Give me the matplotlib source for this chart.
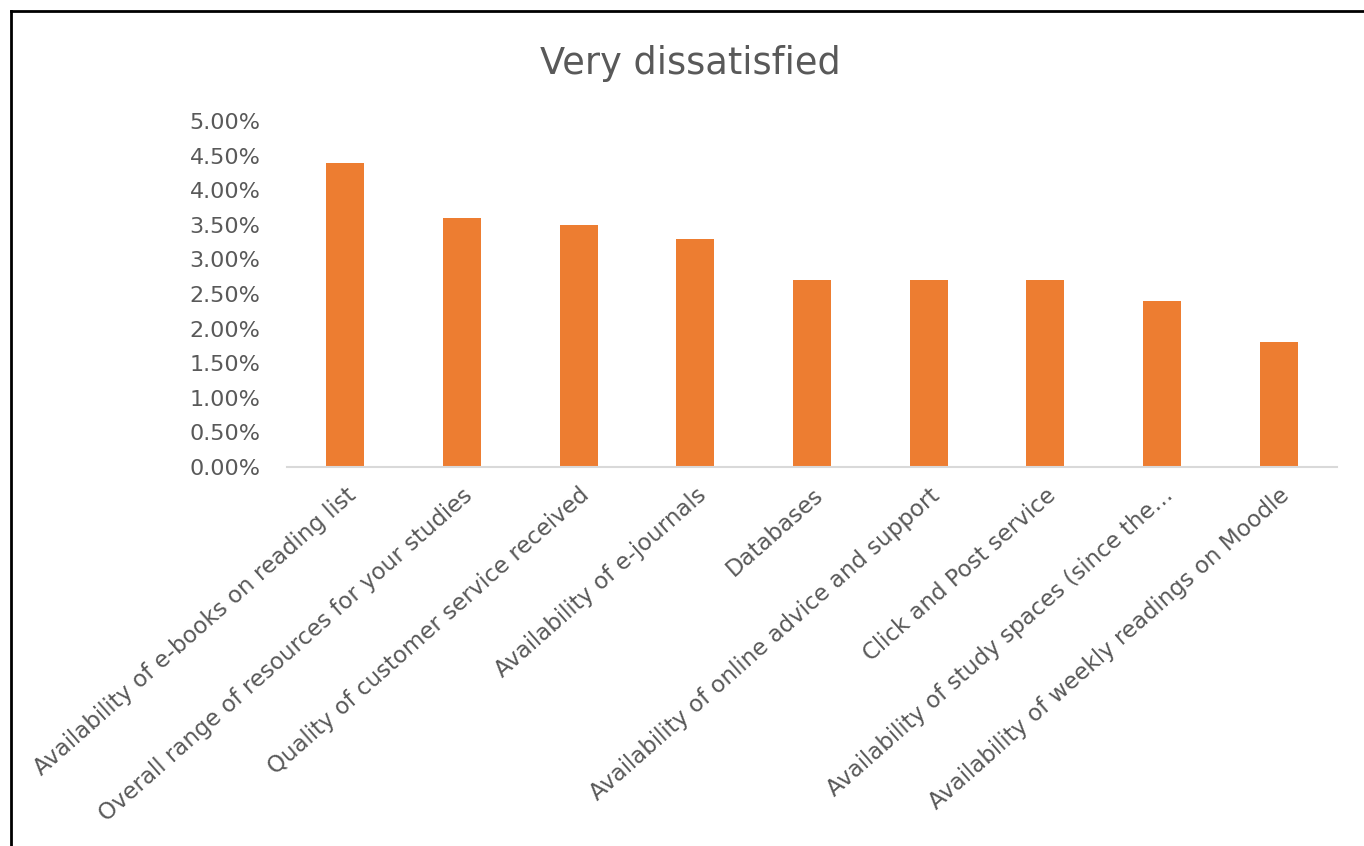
import numpy as np
import matplotlib
matplotlib.use("Agg")
import matplotlib.pyplot as plt
from matplotlib.ticker import FuncFormatter, MultipleLocator
from matplotlib.lines import Line2D

# Chart data
categories = [
    "Availability of e-books on reading list",
    "Overall range of resources for your studies",
    "Quality of customer service received",
    "Availability of e-journals",
    "Databases",
    "Availability of online advice and support",
    "Click and Post service",
    "Availability of study spaces (since the\u2026",
    "Availability of weekly readings on Moodle",
]
values = [0.044, 0.036, 0.035, 0.033, 0.027, 0.027, 0.027, 0.024, 0.018]

title = "Very dissatisfied"
bar_color = "#ED7D31"
text_color = "#595959"

plt.rcParams['font.family'] = ['DejaVu Sans']

fig = plt.figure(figsize=(13.64, 8.46), dpi=100)
ax = fig.add_axes([287 / 1364, 1 - 467 / 846, 1050 / 1364, 346 / 846])

x = np.arange(len(categories))
ax.bar(x, values, width=0.326, color=bar_color, zorder=2)

ax.set_xlim(-0.5, len(categories) - 0.5)
ax.set_ylim(0, 0.05)
ax.yaxis.set_major_locator(MultipleLocator(0.005))
ax.yaxis.set_major_formatter(FuncFormatter(lambda v, p: f"{v * 100:.2f}%"))

for side in ["top", "right", "left"]:
    ax.spines[side].set_visible(False)
ax.spines["bottom"].set_color("#D9D9D9")
ax.spines["bottom"].set_linewidth(1.5)

ax.tick_params(axis="y", length=0, labelsize=16, labelcolor=text_color, pad=19)
ax.tick_params(axis="x", length=0, labelsize=16.5, labelcolor=text_color, pad=12)
ax.set_xticks(x)
ax.set_xticklabels(categories, rotation=41.5, ha="right", rotation_mode="anchor")

fig.text(690 / 1364, 1 - 63 / 846, title, ha="center", va="center",
         fontsize=26.5, color=text_color)

# screenshot border (left and top edges)
fig.add_artist(Line2D([11 / 1364, 11 / 1364], [0, 1 - 11 / 846], transform=fig.transFigure,
                      color="black", linewidth=2))
fig.add_artist(Line2D([11 / 1364, 1], [1 - 11 / 846, 1 - 11 / 846], transform=fig.transFigure,
                      color="black", linewidth=2))

fig.savefig("out.png", dpi=100)
